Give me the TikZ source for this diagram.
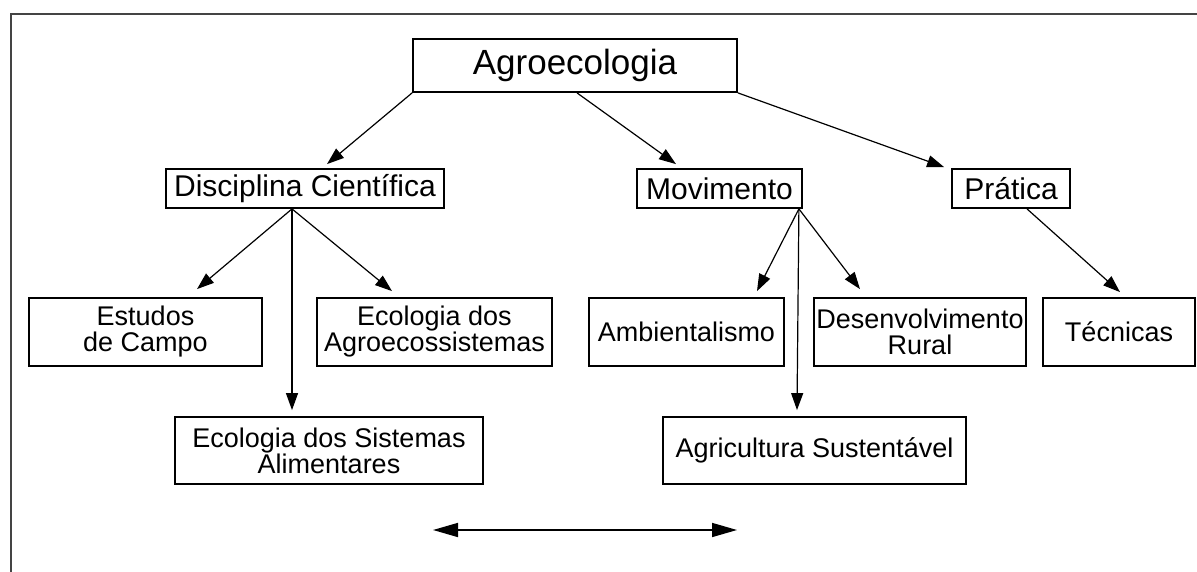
\documentclass[tikz,border=0pt]{standalone}
\usepackage{fontspec}
\setmainfont{Liberation Sans}
\usetikzlibrary{arrows.meta,calc}
\definecolor{framegray}{RGB}{68,68,68}
\newcommand\lowsize{\fontsize{27}{26}\selectfont\lineskiplimit=-100pt\relax}
\begin{document}
\begin{tikzpicture}[x=1pt,y=-1pt,
  box/.style={draw=black, line width=1.8pt, inner sep=0pt, align=center},
  ftop/.style={font=\fontsize{35}{40}\selectfont},
  fmid/.style={font=\fontsize{30}{34}\selectfont},
  flow/.style={font=\lowsize},
  arr/.style={line width=1.2pt, -{Triangle[length=17pt,width=12pt]}},
  darr/.style={line width=1.6pt, {Triangle[length=25pt,width=14pt]}-{Triangle[length=25pt,width=14pt]}}
]
\useasboundingbox (0,0) rectangle (1197,572);
% frame
\draw[framegray, line width=2.6pt] (11,580) -- (11,14) -- (1205,14);

% nodes
\node[box, ftop, minimum width=324pt, minimum height=53pt] (agro) at (575,65.5) {Agroecologia};
\node[box, fmid, minimum width=278pt, minimum height=39pt] (disc) at (305,188.5) {Disciplina Científica};
\node[box, fmid, minimum width=165pt, minimum height=39pt] (mov) at (719.5,188.5) {Movimento};
\node[box, fmid, minimum width=118pt, minimum height=39pt] (prat) at (1011,188.5) {Prática};

\node[box, flow, minimum width=233pt, minimum height=68pt] (est) at (145.5,332) {Estudos\\de Campo};
\node[box, flow, minimum width=235pt, minimum height=68pt] (agrs) at (434.5,332) {Ecologia dos\\Agroecossistemas};
\node[box, flow, minimum width=195pt, minimum height=68pt] (amb) at (686.5,332) {Ambientalismo};
\node[box, flow, minimum width=212pt, minimum height=68pt] (des) at (920,332) {Desenvolvimento\\Rural};
\node[box, flow, minimum width=152pt, minimum height=68pt] (tec) at (1119,332) {Técnicas};
\node[box, flow, minimum width=308pt, minimum height=67pt] (sis) at (329,450.5) {Ecologia dos Sistemas\\Alimentares};
\node[box, flow, minimum width=303pt, minimum height=67pt] (agsu) at (814.5,450.5) {Agricultura Sustentável};

% connectors
\draw[arr] (agro.south west) -- ($(disc.north)+(22,-4)$);
\draw[arr] ($(agro.south)+(2,0)$) -- ($(mov.north)+(-43.5,-4)$);
\draw[arr] (agro.south east) -- ($(prat.north west)+(-7,-1)$);

\draw[arr] ($(disc.south)+(-13,0)$) -- ($(est.north)+(51.5,-8)$);
\draw[arr] ($(disc.south)+(-13,0)$) -- ($(agrs.north)+(-42.5,-6)$);
\draw[arr] ($(disc.south)+(-13,0)$) -- ($(sis.north)+(-37,-6)$);

\draw[arr] ($(mov.south east)+(-4,0)$) -- ($(amb.north)+(70.5,-6)$);
\draw[arr] ($(mov.south east)+(-4,0)$) -- ($(des.north)+(-60,-8)$);
\draw[arr] ($(mov.south east)+(-4,0)$) -- ($(agsu.north)+(-17.5,-6)$);

\draw[arr] ($(prat.south)+(16,0)$) -- ($(tec.north)+(1,-5)$);

\coordinate (dl) at (433,530);
\coordinate (dr) at (737,530);
\draw[darr] (dl) -- (dr);
\end{tikzpicture}
\end{document}
